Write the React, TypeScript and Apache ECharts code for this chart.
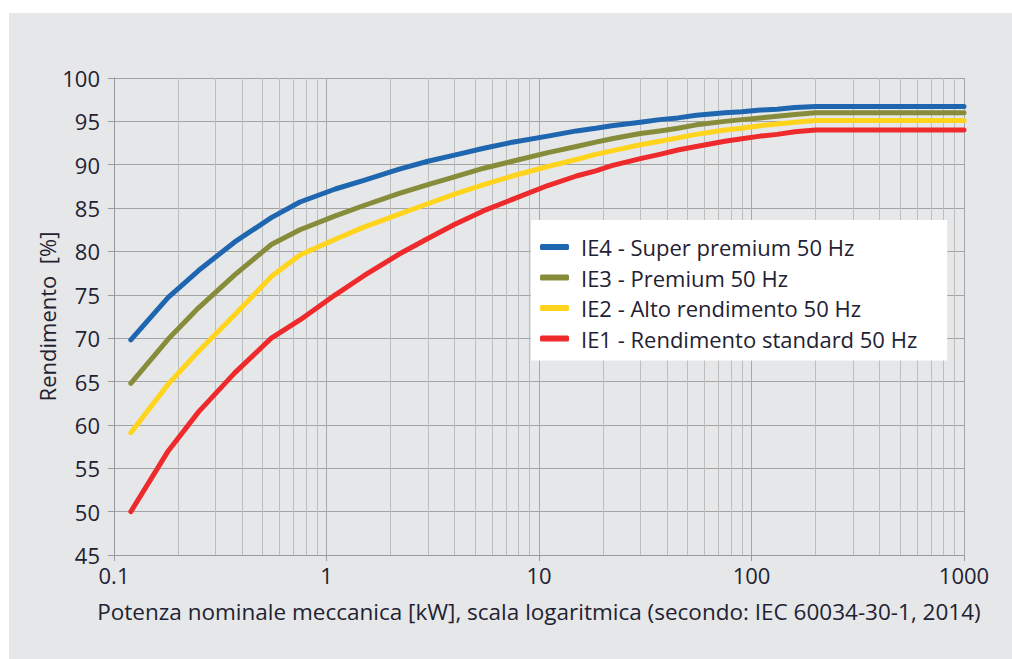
import React, { useEffect, useRef } from "react";
import * as echarts from "echarts";

const powerKW = [0.12, 0.18, 0.25, 0.37, 0.55, 0.75, 1.1, 1.5, 2.2, 3, 4, 5.5, 7.5, 11, 15, 18.5, 22, 30, 37, 45, 55, 75, 90, 110, 132, 160, 200, 1000];
const ie4 = [69.8, 74.7, 77.8, 81.1, 83.9, 85.7, 87.2, 88.2, 89.5, 90.4, 91.1, 91.9, 92.6, 93.3, 93.9, 94.2, 94.5, 94.9, 95.2, 95.4, 95.7, 96.0, 96.1, 96.3, 96.4, 96.6, 96.7, 96.7];
const ie3 = [64.8, 69.9, 73.5, 77.3, 80.8, 82.5, 84.1, 85.3, 86.7, 87.7, 88.6, 89.6, 90.4, 91.4, 92.1, 92.6, 93.0, 93.6, 93.9, 94.2, 94.6, 95.0, 95.2, 95.4, 95.6, 95.8, 96.0, 96.0];
const ie2 = [59.1, 64.7, 68.5, 72.7, 77.1, 79.6, 81.4, 82.8, 84.3, 85.5, 86.6, 87.7, 88.7, 89.8, 90.6, 91.2, 91.6, 92.3, 92.7, 93.1, 93.5, 94.0, 94.2, 94.5, 94.7, 94.9, 95.1, 95.1];
const ie1 = [50.0, 57.0, 61.5, 66.0, 70.0, 72.1, 75.0, 77.2, 79.7, 81.5, 83.1, 84.7, 86.0, 87.6, 88.7, 89.3, 89.9, 90.7, 91.2, 91.7, 92.1, 92.7, 93.0, 93.3, 93.5, 93.8, 94.0, 94.0];
const seriesNames = [
  "IE4 - Super premium 50 Hz",
  "IE3 - Premium 50 Hz",
  "IE2 - Alto rendimento 50 Hz",
  "IE1 - Rendimento standard 50 Hz",
];
const seriesColors = ["#1f66b0", "#878c3a", "#ffd41c", "#ee2a2c"];
const minorGridKW = [
  0.2, 0.3, 0.4, 0.5, 0.6, 0.7, 0.8, 0.9,
  2, 3, 4, 5, 6, 7, 8, 9,
  20, 30, 40, 50, 60, 70, 80, 90,
  200, 300, 400, 500, 600, 700, 800, 900,
];
const xAxisTitle = "Potenza nominale meccanica [kW], scala logaritmica (secondo: IEC 60034-30-1, 2014)";
const yAxisTitle = "Rendimento  [%]";

const FONT = "Open Sans";
const TEXT = "#1f2232";

export default function App() {
  const ref = useRef<HTMLDivElement>(null);
  useEffect(() => {
    if (!ref.current) return;
    const chart = echarts.init(ref.current, undefined, { renderer: "svg" });
    const values = [ie4, ie3, ie2, ie1];
    const lineSeries = values.map((vals, i) => ({
      name: seriesNames[i],
      type: "line",
      data: powerKW.map((p, j) => [p, vals[j]]),
      showSymbol: false,
      symbol: "none",
      lineStyle: { color: seriesColors[i], width: 5, cap: "round", join: "round" },
      itemStyle: { color: seriesColors[i] },
      z: 3,
    }));
    chart.setOption({
      animation: false,
      textStyle: { fontFamily: FONT, color: TEXT },
      grid: { left: 105, right: 48, top: 65, bottom: 104, outerBoundsMode: "none" },
      legend: {
        data: seriesNames,
        orient: "vertical",
        left: 522,
        top: 207,
        backgroundColor: "#ffffff",
        padding: [16, 30, 11, 9],
        itemWidth: 29,
        itemHeight: 6,
        itemGap: 8.5,
        icon: "roundRect",
        textStyle: { fontFamily: FONT, fontSize: 22, color: TEXT, lineHeight: 22, padding: [0, 0, 0, 7] },
        z: 10,
      },
      xAxis: {
        type: "log",
        logBase: 10,
        min: 0.1,
        max: 1000,
        name: xAxisTitle,
        nameLocation: "middle",
        nameGap: 45,
        nameMoveOverlap: false,
        nameTextStyle: { fontFamily: FONT, fontSize: 22.5, color: TEXT },
        axisLine: { show: true, lineStyle: { color: "#9a9a9a", width: 1 } },
        axisTick: { show: true, length: 6, lineStyle: { color: "#9a9a9a" } },
        axisLabel: {
          fontFamily: FONT,
          fontSize: 22,
          color: TEXT,
          margin: 9,
          formatter: (v: number) => (v < 1 ? v.toFixed(1) : String(Math.round(v))),
        },
        splitLine: { show: true, lineStyle: { color: "#a8a8a8", width: 1 } },
      },
      yAxis: {
        type: "value",
        min: 45,
        max: 100,
        interval: 5,
        name: yAxisTitle,
        nameLocation: "middle",
        nameGap: 56,
        nameMoveOverlap: false,
        nameTextStyle: { fontFamily: FONT, fontSize: 22, color: TEXT },
        axisLine: { show: true, lineStyle: { color: "#9a9a9a", width: 1 } },
        axisTick: { show: true, length: 6, lineStyle: { color: "#9a9a9a" } },
        axisLabel: { fontFamily: FONT, fontSize: 22, color: TEXT, margin: 14 },
        splitLine: { show: true, lineStyle: { color: "#a3a3a3", width: 1 } },
      },
      series: [
        {
          name: "minor-grid",
          type: "line",
          data: [[1, 0]],
          showSymbol: false,
          symbol: "none",
          lineStyle: { opacity: 0 },
          silent: true,
          z: 1,
          markLine: {
            silent: true,
            symbol: ["none", "none"],
            label: { show: false },
            z: 1,
            lineStyle: { color: "#bdbdbd", width: 1, type: "solid" },
            emphasis: { disabled: true },
            data: minorGridKW.map((v) => ({ xAxis: v })),
          },
        },
        ...lineSeries,
      ],
    });
    return () => chart.dispose();
  }, []);
  return (
    <div
      style={{
        position: "absolute",
        left: 9,
        top: 13,
        width: 1003,
        height: 646,
        background: "#e6e7e8",
      }}
    >
      <div ref={ref} style={{ width: 1003, height: 646 }} />
    </div>
  );
}
